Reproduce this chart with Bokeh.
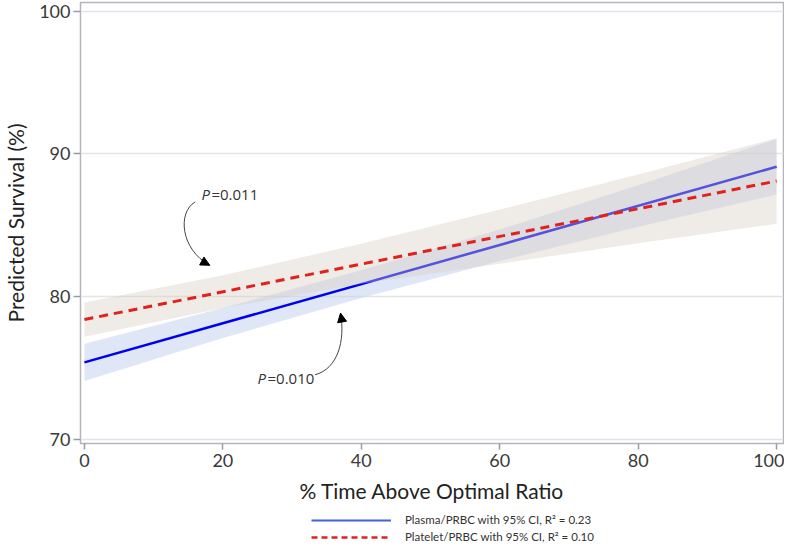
from bokeh.plotting import figure
from bokeh.models import (Range1d, FixedTicker, Legend, LegendItem, Arrow, NormalHead)
from bokeh.layouts import column
from bokeh.core.properties import value
from bokeh.embed import file_html
from bokeh.resources import INLINE

# ---- data ----
x_band = [0, 20, 40, 60, 80, 100]
plasma_lower = [74.1, 77.1, 79.9, 82.5, 84.9, 87.15]
plasma_upper = [76.7, 79.2, 81.85, 84.7, 87.8, 91.05]
platelet_lower = [77.2, 79.2, 80.9, 82.3, 83.75, 85.1]
platelet_upper = [79.6, 81.5, 83.7, 86.1, 88.55, 91.1]

x_line = [0, 100]
plasma_fit = [75.4, 89.1]
platelet_fit = [78.4, 88.1]

x_ticks = [0, 20, 40, 60, 80, 100]
y_ticks = [70, 80, 90, 100]

plasma_label = "Plasma/PRBC with 95% CI, R\u00b2 = 0.23"
platelet_label = "Platelet/PRBC with 95% CI, R\u00b2 = 0.10"

# annotations: text anchors and curved-arrow control points (data units)
ann_text_x = [16.9, 25.0]
ann_text_y = [87.2, 74.33]
ann_text = ["=0.011", "=0.010"]
arrow_x0 = [16.0, 33.3]
arrow_y0 = [86.64, 74.53]
arrow_cx0 = [13.4, 36.6]
arrow_cy0 = [85.9, 74.95]
arrow_cx1 = [13.9, 37.7]
arrow_cy1 = [83.3, 76.9]
arrow_x1 = [18.1, 37.0]
arrow_y1 = [82.2, 78.85]

FONT = "Lato"
W = 784
H_MAIN = 505
H_LEG = 543 - H_MAIN

p = figure(width=W, height=H_MAIN, output_backend="svg", toolbar_location=None,
           x_range=Range1d(-0.57, 101.0), y_range=Range1d(69.72, 100.6),
           min_border_left=73, min_border_right=1, min_border_top=2,
           min_border_bottom=58)

p.background_fill_color = "white"
p.outline_line_color = "#b4b4bc"
p.outline_line_width = 1.5
p.xgrid.grid_line_color = None
p.ygrid.grid_line_color = "#e4e4e6"
p.ygrid.grid_line_width = 1.5
p.ygrid.ticker = FixedTicker(ticks=y_ticks)

# bands and lines
p.varea(x=x_band, y1=plasma_lower, y2=plasma_upper, fill_color="#c0d0f0", fill_alpha=0.5)
p.line(x_line, plasma_fit, line_color="#0000ee", line_width=2.5)
p.varea(x=x_band, y1=platelet_lower, y2=platelet_upper, fill_color="#d7cdc0", fill_alpha=0.4)
p.line(x_line, platelet_fit, line_color="#e2201c", line_width=3, line_dash="9 6")

# annotation arrows
p.bezier(x0=arrow_x0, y0=arrow_y0, x1=arrow_x1, y1=arrow_y1,
         cx0=arrow_cx0, cy0=arrow_cy0, cx1=arrow_cx1, cy1=arrow_cy1,
         line_color="#444444", line_width=1)
for i in range(2):
    p.add_layout(Arrow(x_start=arrow_cx1[i], y_start=arrow_cy1[i],
                       x_end=arrow_x1[i], y_end=arrow_y1[i],
                       line_alpha=0,
                       end=NormalHead(size=9, fill_color="black", line_color="black")))

p.text(x=ann_text_x, y=ann_text_y, text=["P", "P"], text_font=value("Open Sans"),
       text_font_style="italic", text_font_size="15px", text_color="#333333",
       text_baseline="middle", text_align="left")
p.text(x=ann_text_x, y=ann_text_y, text=ann_text, text_font=value("Open Sans"),
       text_font_size="15px", text_color="#333333", x_offset=10,
       text_baseline="middle", text_align="left")

# axes
p.xaxis.ticker = FixedTicker(ticks=x_ticks)
p.yaxis.ticker = FixedTicker(ticks=y_ticks)
for ax in (p.xaxis, p.yaxis):
    ax.axis_line_color = None
    ax.major_tick_line_color = "#9a9aa2"
    ax.major_tick_line_width = 1.5
    ax.major_tick_in = 0
    ax.major_tick_out = 7
    ax.minor_tick_line_color = None
    ax.major_label_text_font = FONT
    ax.major_label_text_font_size = "18px"
    ax.major_label_text_color = "#3a3a3a"
    ax.axis_label_text_font = FONT
    ax.axis_label_text_font_style = "normal"
    ax.axis_label_text_color = "#222222"
    ax.axis_label_text_font_size = "21px"

p.xaxis.axis_label = "% Time Above Optimal Ratio"
p.xaxis.major_tick_out = 6
p.xaxis.major_label_standoff = 4
p.xaxis.axis_label_standoff = 8
p.yaxis.axis_label = "Predicted Survival (%)"
p.yaxis.major_label_standoff = 3
p.yaxis.axis_label_standoff = 8

# legend in a separate strip below the chart
q = figure(width=W, height=H_LEG, output_backend="svg", toolbar_location=None,
           x_range=Range1d(0, 1), y_range=Range1d(0, 1),
           x_axis_location=None, y_axis_location=None,
           min_border=0, min_border_left=0, min_border_right=0,
           min_border_top=0, min_border_bottom=0)
q.xgrid.visible = False
q.ygrid.visible = False
q.outline_line_color = None
q.background_fill_color = "white"
leg_plasma = q.line([-5, -4], [-5, -5], line_color="#3f63d8", line_width=2)
leg_platelet = q.line([-5, -4], [-5, -5], line_color="#e2201c", line_width=2.5, line_dash="6 4")
legend = Legend(items=[LegendItem(label=plasma_label, renderers=[leg_plasma]),
                       LegendItem(label=platelet_label, renderers=[leg_platelet])],
                location=(231, 0), orientation="vertical")
legend.border_line_color = None
legend.background_fill_alpha = 0
legend.label_text_font = FONT
legend.label_text_font_size = "11.5px"
legend.label_text_color = "#333333"
legend.glyph_width = 80
legend.glyph_height = 12
legend.label_standoff = 14
legend.label_height = 12
legend.spacing = 4
legend.padding = 0
legend.margin = 0
q.add_layout(legend)

layout = column(p, q, spacing=0)
open("out.html", "w").write(file_html(layout, INLINE))
